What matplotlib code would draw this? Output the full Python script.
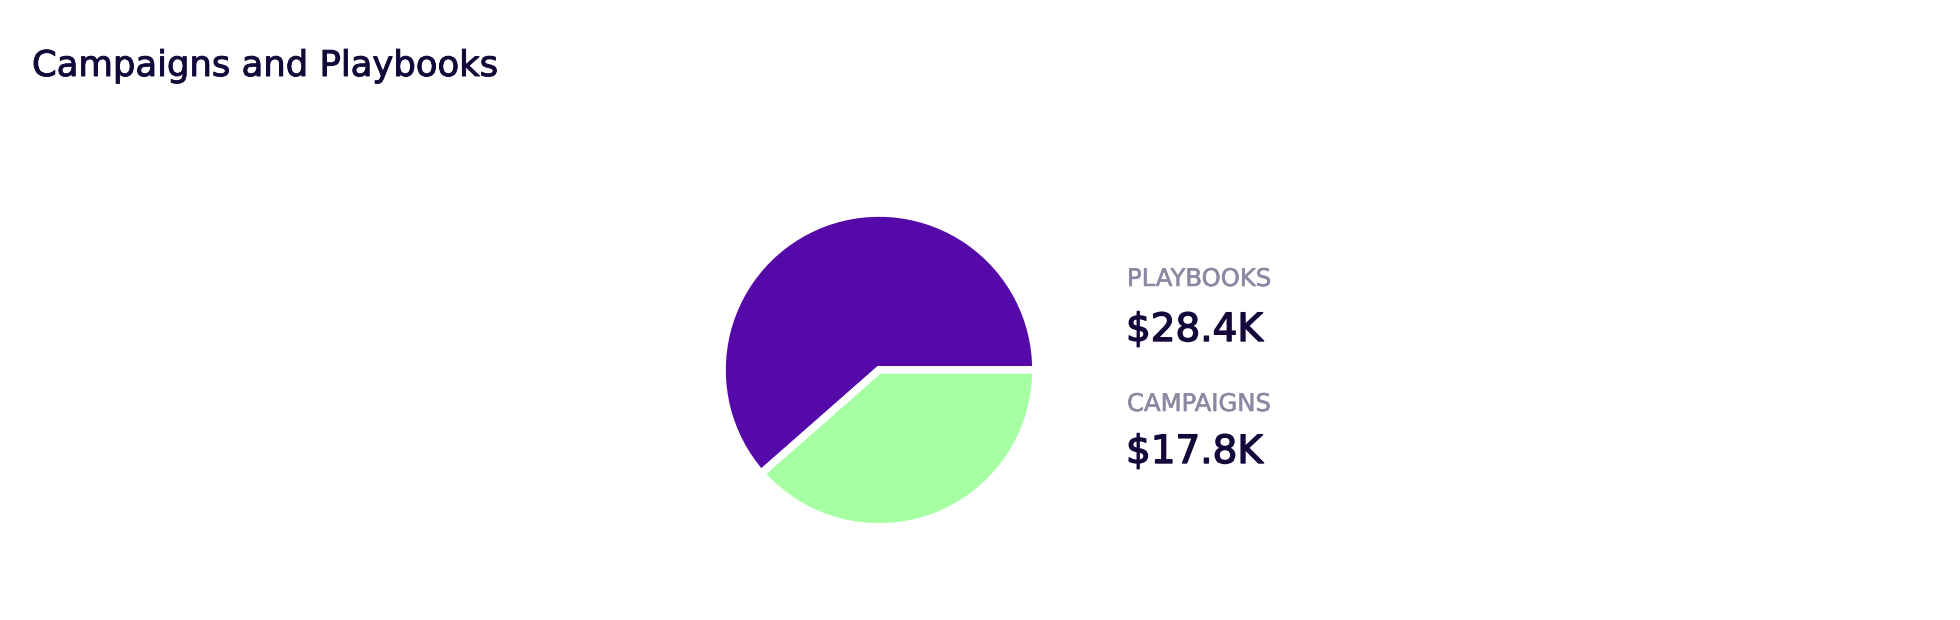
import matplotlib
matplotlib.use("Agg")
import matplotlib.pyplot as plt
import matplotlib.patheffects as pe

categories = ["PLAYBOOKS", "CAMPAIGNS"]
values = [28.4, 17.8]
value_labels = ["$28.4K", "$17.8K"]
colors = ["#5409A8", "#A6FFA2"]

title = "Campaigns and Playbooks"
FONT = ["DejaVu Sans"]
DARK = "#14073A"
GRAY = "#8E87A3"

W, H = 1960, 620
fig = plt.figure(figsize=(W / 100, H / 100), dpi=100)
fig.patch.set_facecolor("white")

cx, cy, r = 879, 370, 157
ax = fig.add_axes([(cx - r) / W, (H - cy - r) / H, 2 * r / W, 2 * r / H])
ax.pie(values, colors=colors, startangle=0, counterclock=True, radius=1,
       wedgeprops=dict(edgecolor="white", linewidth=5.5))
ax.set_xlim(-1, 1)
ax.set_ylim(-1, 1)
ax.set_aspect("equal")
ax.axis("off")

def thick(color, w):
    return [pe.withStroke(linewidth=w, foreground=color)]

fig.text(32 / W, 1 - 76 / H, title, fontsize=25.5, color=DARK, family=FONT,
         ha="left", va="baseline", path_effects=thick(DARK, 0.7))

label_base = [286, 411]
value_base = [341, 463]
for cat, vl, lb, vb in zip(categories, value_labels, label_base, value_base):
    fig.text(1127 / W, 1 - lb / H, cat, fontsize=17.5, color=GRAY, family=FONT,
             ha="left", va="baseline", path_effects=thick(GRAY, 0.4))
    fig.text(1126 / W, 1 - vb / H, vl, fontsize=28, color=DARK, family=FONT,
             ha="left", va="baseline", path_effects=thick(DARK, 1.0))

fig.savefig("out.png", dpi=100, facecolor="white")
